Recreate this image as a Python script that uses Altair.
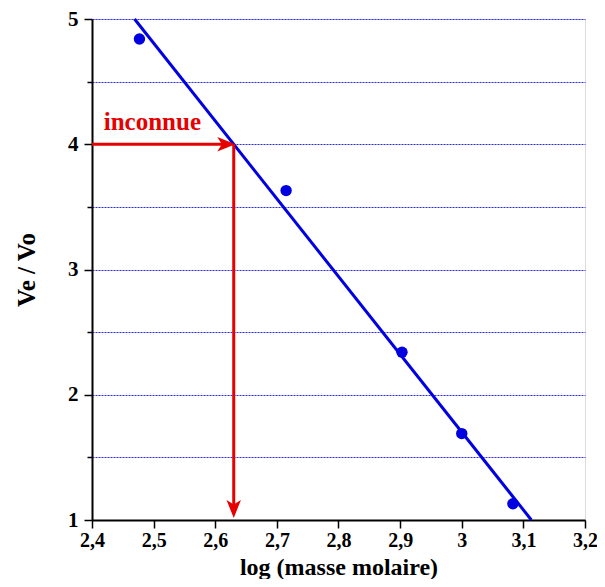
import altair as alt
import pandas as pd

# Measured points
log_mass = [2.477, 2.715, 2.903, 3.0, 3.083]
ve_vo = [4.84, 3.63, 2.34, 1.69, 1.13]

# Calibration line (end points)
line_x = [2.469, 3.113]
line_y = [5.0, 1.0]

# Unknown
unknown_ve_vo = 4.0
unknown_log = 2.630
label_text = "inconnue"

x_ticks = [2.4, 2.45, 2.5, 2.55, 2.6, 2.65, 2.7, 2.75, 2.8, 2.85, 2.9, 2.95, 3.0, 3.05, 3.1, 3.15, 3.2]
y_ticks = [1, 1.5, 2, 2.5, 3, 3.5, 4, 4.5, 5]

BLUE = "#0000e0"
RED = "#e60000"
FONT = "Liberation Serif"

pts = pd.DataFrame({"x": log_mass, "y": ve_vo})
fit = pd.DataFrame({"x": line_x, "y": line_y})
harrow = pd.DataFrame({"x": [2.4, unknown_log - 0.012], "y": [unknown_ve_vo, unknown_ve_vo]})
varrow = pd.DataFrame({"x": [unknown_log, unknown_log], "y": [unknown_ve_vo, 1.1]})
hhead = pd.DataFrame({"x": [unknown_log - 0.012], "y": [unknown_ve_vo]})
vhead = pd.DataFrame({"x": [unknown_log], "y": [1.088]})
lbl = pd.DataFrame({"x": [2.498], "y": [4.114], "t": [label_text]})

is_major_x = "abs(datum.value*10 - round(datum.value*10)) < 0.001"
is_major_y = "abs(datum.value - round(datum.value)) < 0.001"

xscale = alt.Scale(domain=[2.4, 3.2], nice=False, zero=False)
yscale = alt.Scale(domain=[1, 5], nice=False, zero=False)

xaxis = alt.Axis(
    values=x_ticks,
    title="log  (masse molaire)",
    labelExpr=f"{is_major_x} ? replace(toString(round(datum.value*10)/10), '.', ',') : ''",
    tickSize={"condition": {"test": is_major_x, "value": 8}, "value": 5},
    grid=False,
    domainColor="black", domainWidth=2, tickColor="black", tickWidth=1.5,
    labelFont=FONT, labelFontSize=20, labelFontWeight="bold", labelColor="black",
    labelPadding=2, labelFlush=False, labelOverlap=False,
    titleFont=FONT, titleFontSize=24, titleFontWeight="bold", titleColor="black",
    titlePadding=5,
)
yaxis = alt.Axis(
    values=y_ticks,
    title="Ve / Vo",
    labelExpr=f"{is_major_y} ? toString(round(datum.value)) : ''",
    tickSize={"condition": {"test": is_major_y, "value": 8}, "value": 5},
    grid=True, gridColor="#2a2aff", gridDash=[2, 1], gridWidth=1,
    domainColor="black", domainWidth=2, tickColor="black", tickWidth=1.5,
    labelFont=FONT, labelFontSize=21, labelFontWeight="bold", labelColor="black",
    labelPadding=6, labelOverlap=False, labelFlush=False,
    titleFont=FONT, titleFontSize=25, titleFontWeight="bold", titleColor="black",
    titlePadding=28,
)

base_x = alt.X("x:Q", scale=xscale, axis=xaxis)
base_y = alt.Y("y:Q", scale=yscale, axis=yaxis)

fit_line = alt.Chart(fit).mark_line(color=BLUE, strokeWidth=3).encode(x=base_x, y=base_y)
points = alt.Chart(pts).mark_point(filled=True, color=BLUE, size=130, opacity=1).encode(x="x:Q", y="y:Q")
h_line = alt.Chart(harrow).mark_line(color=RED, strokeWidth=3).encode(x="x:Q", y="y:Q")
v_line = alt.Chart(varrow).mark_line(color=RED, strokeWidth=3).encode(x="x:Q", y="y:Q")
h_head = alt.Chart(hhead).mark_point(
    shape="M 1 0 L -1 -0.8 L -0.5 0 L -1 0.8 Z", filled=True, color=RED, size=324, opacity=1
).encode(x="x:Q", y="y:Q")
v_head = alt.Chart(vhead).mark_point(
    shape="M 0 1 L -0.8 -1 L 0 -0.5 L 0.8 -1 Z", filled=True, color=RED, size=324, opacity=1
).encode(x="x:Q", y="y:Q")
text = alt.Chart(lbl).mark_text(
    color=RED, font=FONT, fontSize=25, fontWeight="bold", align="center", baseline="alphabetic"
).encode(x="x:Q", y="y:Q", text="t:N")

chart = alt.layer(fit_line, points, h_line, v_line, h_head, v_head, text).properties(
    width=493, height=501,
    autosize=alt.AutoSizeParams(type="none"),
    padding={"left": 84, "top": 11, "right": 12, "bottom": 59},
).configure_view(stroke=None).configure(background="white")

chart.save("out.html", embed_options={"renderer": "svg", "actions": False})
